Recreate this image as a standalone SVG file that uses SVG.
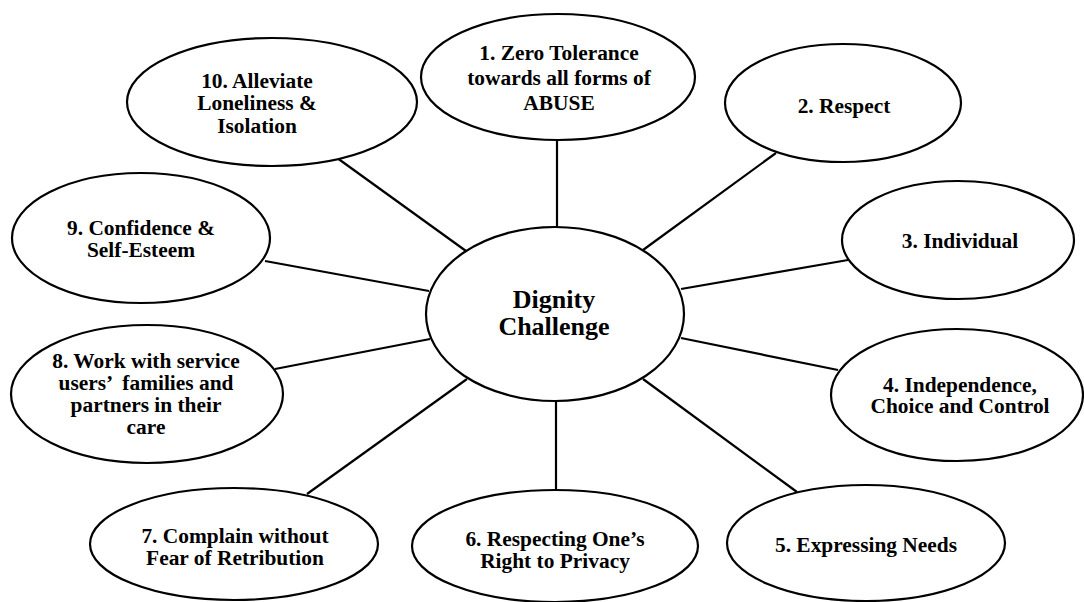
<svg xmlns="http://www.w3.org/2000/svg" width="1084" height="602" viewBox="0 0 1084 602">
  <style>
    .bubble { fill: #ffffff; stroke: #000000; stroke-width: 2.2; }
    .spoke { stroke: #000000; stroke-width: 2.2; fill: none; }
    .label { font-family: "Liberation Serif", "Times New Roman", serif; font-weight: bold; font-size: 21.4px; fill: #000000; text-anchor: middle; white-space: pre; }
    .hub { font-size: 26px; }
  </style>
  <rect width="1084" height="602" fill="#ffffff"/>

  <!-- spokes from the hub out to each value -->
  <g id="connectors">
    <line class="spoke" x1="557" y1="140" x2="557" y2="228"/>
    <line class="spoke" x1="776" y1="153" x2="643" y2="250"/>
    <line class="spoke" x1="848" y1="260" x2="681" y2="289"/>
    <line class="spoke" x1="838" y1="370" x2="681" y2="338"/>
    <line class="spoke" x1="797" y1="492" x2="643" y2="379"/>
    <line class="spoke" x1="556" y1="401" x2="556" y2="490"/>
    <line class="spoke" x1="307" y1="494" x2="467" y2="379"/>
    <line class="spoke" x1="275" y1="369" x2="430" y2="339"/>
    <line class="spoke" x1="265" y1="261" x2="429" y2="291"/>
    <line class="spoke" x1="333" y1="155" x2="466" y2="251"/>
  </g>

  <g id="hub">
    <ellipse class="bubble" cx="555" cy="314" rx="129" ry="87"/>
    <text class="label hub" x="554" y="308">Dignity</text>
    <text class="label hub" x="554" y="335">Challenge</text>
  </g>

  <g id="node1">
    <ellipse class="bubble" cx="558" cy="77" rx="137" ry="63"/>
    <text class="label" x="559" y="60">1. Zero Tolerance</text>
    <text class="label" x="559" y="85">towards all forms of</text>
    <text class="label" x="559" y="110">ABUSE</text>
  </g>

  <g id="node2">
    <ellipse class="bubble" cx="843" cy="103" rx="118" ry="59"/>
    <text class="label" x="844" y="113">2. Respect</text>
  </g>

  <g id="node3">
    <ellipse class="bubble" cx="958" cy="240" rx="116" ry="59"/>
    <text class="label" x="960" y="248">3. Individual</text>
  </g>

  <g id="node4">
    <ellipse class="bubble" cx="957" cy="395" rx="126" ry="66"/>
    <text class="label" x="960" y="392">4. Independence,</text>
    <text class="label" x="960" y="413">Choice and Control</text>
  </g>

  <g id="node5">
    <ellipse class="bubble" cx="866" cy="543" rx="139" ry="58"/>
    <text class="label" x="866" y="552">5. Expressing Needs</text>
  </g>

  <g id="node6">
    <ellipse class="bubble" cx="555" cy="546" rx="143" ry="56"/>
    <text class="label" x="555" y="546">6. Respecting One’s</text>
    <text class="label" x="555" y="568">Right to Privacy</text>
  </g>

  <g id="node7">
    <ellipse class="bubble" cx="234" cy="544" rx="144" ry="56"/>
    <text class="label" x="235" y="543">7. Complain without</text>
    <text class="label" x="235" y="565">Fear of Retribution</text>
  </g>

  <g id="node8">
    <ellipse class="bubble" cx="147" cy="394" rx="136" ry="69"/>
    <text class="label" x="146" y="368">8. Work with service</text>
    <text class="label" x="146" y="390">users’  families and</text>
    <text class="label" x="146" y="412">partners in their</text>
    <text class="label" x="146" y="434">care</text>
  </g>

  <g id="node9">
    <ellipse class="bubble" cx="141" cy="238" rx="129" ry="65"/>
    <text class="label" x="141" y="235">9. Confidence &amp;</text>
    <text class="label" x="141" y="257">Self-Esteem</text>
  </g>

  <g id="node10">
    <ellipse class="bubble" cx="272" cy="102" rx="145" ry="64"/>
    <text class="label" x="257" y="88">10. Alleviate</text>
    <text class="label" x="257" y="110">Loneliness &amp;</text>
    <text class="label" x="257" y="133">Isolation</text>
  </g>
</svg>
